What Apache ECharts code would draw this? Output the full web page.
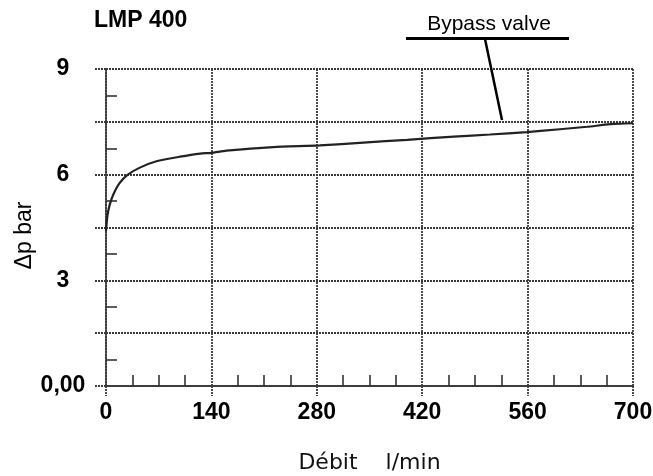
<!DOCTYPE html>
<html>
<head>
<meta charset="utf-8">
<script src="https://cdn.jsdelivr.net/npm/echarts@6/dist/echarts.min.js"></script>
<style>html,body{margin:0;padding:0;background:#fff}#c{width:653px;height:476px}</style>
</head>
<body>
<div id="c"></div>
<script>
// ---- data ----
const flow = [0, 2, 5, 10, 18, 29, 45, 67, 98, 125, 140, 160, 222, 284, 342, 400, 462, 510, 559, 603, 639, 674, 700];
const pressure = [4.4, 4.85, 5.15, 5.45, 5.76, 6.0, 6.2, 6.38, 6.51, 6.6, 6.62, 6.68, 6.78, 6.83, 6.91, 6.99, 7.08, 7.14, 7.21, 7.29, 7.36, 7.44, 7.46];
const xTickValues = [0, 140, 280, 420, 560, 700];
const yLabelValues = [0, 3, 6, 9];
const yLabelTexts = ['0,00', '3', '6', '9'];
const titleText = 'LMP 400';
const xName = 'Débit    l/min';
const yName = '\u0394p bar';
const annotationText = 'Bypass valve';
const annotationPoint = [526, 7.55];

const grid = '#3a3a3a';
const dotted = { color: grid, width: 1.8, type: [2, 1] };
const labelFont = { fontFamily: 'Liberation Sans, Arial', fontWeight: 'bold', fontSize: 23, color: '#000' };

const chart = echarts.init(document.getElementById('c'), null, { renderer: 'canvas' });
const option = {
  animation: false,
  title: {
    text: titleText, left: 94, top: 9, padding: 0,
    textStyle: { fontFamily: 'Liberation Sans, Arial', fontWeight: 'bold', fontSize: 23, color: '#000' }
  },
  grid: { left: 106, right: 20, top: 69, bottom: 90, containLabel: false, outerBoundsMode: 'none' },
  xAxis: [{
    type: 'value', min: xTickValues[0], max: xTickValues[xTickValues.length - 1], interval: 140,
    axisLine: { show: true, lineStyle: dotted },
    axisTick: { show: true, length: 10, lineStyle: dotted },
    splitLine: { show: true, lineStyle: dotted },
    axisLabel: Object.assign({ margin: 15 }, labelFont),
    name: xName, nameLocation: 'middle', nameGap: 66, nameMoveOverlap: false,
    nameTextStyle: { fontFamily: 'DejaVu Sans', fontSize: 22, color: '#111' }
  }, {
    type: 'value', position: 'bottom', offset: 0,
    min: xTickValues[0], max: xTickValues[xTickValues.length - 1], interval: 140,
    axisLine: { show: false }, axisLabel: { show: false }, splitLine: { show: false },
    axisTick: { show: false, inside: true },
    minorTick: { show: true, splitNumber: 4, length: 11, lineStyle: { color: '#333', width: 1.6 } }
  }],
  yAxis: [{
    type: 'value', min: 0, max: 9, interval: 1.5,
    axisLine: { show: true, lineStyle: dotted },
    axisTick: { show: true, length: 12, lineStyle: dotted },
    splitLine: { show: true, lineStyle: dotted },
    axisLabel: Object.assign({
      margin: 43, align: 'center',
      formatter: v => { const i = yLabelValues.indexOf(v); return i >= 0 ? yLabelTexts[i] : ''; }
    }, labelFont),
    name: yName, nameLocation: 'middle', nameGap: 70, nameMoveOverlap: false,
    nameTextStyle: { fontFamily: 'Liberation Sans, Arial', fontSize: 23, color: '#000', padding: [0, 16, 0, 0] }
  }, {
    type: 'value', position: 'left', offset: 0, min: 0, max: 9, interval: 1.5,
    axisLine: { show: false }, axisLabel: { show: false }, splitLine: { show: false },
    axisTick: { show: false, inside: true },
    minorTick: { show: true, splitNumber: 2, length: 11, lineStyle: { color: '#333', width: 1.6 } }
  }],
  series: [{
    type: 'line', xAxisIndex: 0, yAxisIndex: 0, smooth: 0.2, showSymbol: false,
    data: flow.map((x, i) => [x, pressure[i]]),
    lineStyle: { color: '#222', width: 2.2 }
  }]
};
chart.setOption(option);

const p = chart.convertToPixel({ gridIndex: 0 }, annotationPoint);
chart.setOption({
  graphic: [
    { type: 'text', x: 489, y: 35, style: { text: annotationText, font: '21px "Liberation Sans", Arial', fill: '#000', align: 'center', verticalAlign: 'bottom' } },
    { type: 'line', shape: { x1: 406, y1: 38.5, x2: 569, y2: 38.5 }, style: { stroke: '#000', lineWidth: 3 } },
    { type: 'line', shape: { x1: 485, y1: 39, x2: p[0], y2: p[1] }, style: { stroke: '#000', lineWidth: 2.5 } }
  ]
});
</script>
</body>
</html>
